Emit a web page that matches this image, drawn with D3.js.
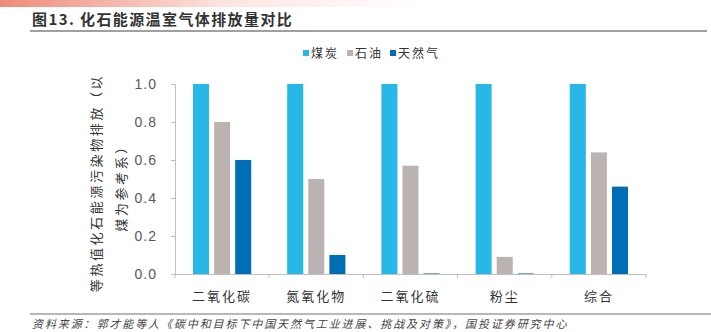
<!DOCTYPE html>
<html><head><meta charset="utf-8">
<script src="https://cdn.jsdelivr.net/npm/d3@7"></script>
<style>
body{margin:0;background:#fff;}
svg{display:block;}
</style></head>
<body>
<svg id="chart" width="711" height="332"></svg>
<script>
const categories = ["二氧化碳","氮氧化物","二氧化硫","粉尘","综合"];
const seriesNames = ["煤炭","石油","天然气"];
const coal = [1.0, 1.0, 1.0, 1.0, 1.0];
const oil = [0.8, 0.5, 0.57, 0.09, 0.64];
const gas = [0.6, 0.1, 0.003, 0.003, 0.46];
const yTicks = [0, 0.2, 0.4, 0.6, 0.8, 1.0];
const colors = ["#27b8e7","#bab3b1","#006eb4"];
const title = "图13. 化石能源温室气体排放量对比";
const source = "资料来源：郭才能等人《碳中和目标下中国天然气工业进展、挑战及对策》，国投证券研究中心";
const yLabel1 = "等热值化石能源污染物排放（以";
const yLabel2 = "煤为参考系）";

const svg = d3.select("#chart");
const defs = svg.append("defs");
const grad = defs.append("linearGradient").attr("id","topg").attr("x1","0").attr("x2","1");
grad.append("stop").attr("offset","0").attr("stop-color","#f08a7a");
grad.append("stop").attr("offset","0.55").attr("stop-color","#fde6e2");
grad.append("stop").attr("offset","1").attr("stop-color","#ffffff");
svg.append("rect").attr("x",0).attr("y",0).attr("width",420).attr("height",7).attr("fill","url(#topg)");

svg.append("text").attr("x",32).attr("y",25).text(title)
  .attr("font-family","'Noto Sans CJK SC'").attr("font-size",15).attr("font-weight","bold")
  .attr("fill","#333").attr("letter-spacing","1.4");
svg.append("line").attr("x1",30).attr("x2",707).attr("y1",31).attr("y2",31)
  .attr("stroke","#a0a0a0").attr("stroke-width",2);

const m = {left:175, right:646, top:84, bottom:274};
const x = d3.scaleBand().domain(categories).range([m.left, m.right]).paddingInner(0).paddingOuter(0);
const y = d3.scaleLinear().domain([0,1]).range([m.bottom, m.top]);
const xs = d3.scaleBand().domain(seriesNames).range([18, x.bandwidth()-18]).paddingInner(0.24);

const data = [coal, oil, gas];
data.forEach((vals, si) => {
  svg.append("g").selectAll("rect").data(vals).join("rect")
    .attr("x", (d,i) => x(categories[i]) + xs(seriesNames[si]))
    .attr("width", xs.bandwidth())
    .attr("y", d => y(d))
    .attr("height", d => y(0) - y(d))
    .attr("fill", colors[si]);
});

// y axis
const yAxis = svg.append("g").attr("transform",`translate(${m.left},0)`)
  .call(d3.axisLeft(y).tickValues(yTicks).tickFormat(d3.format(".1f")).tickSize(4).tickPadding(14));
yAxis.select(".domain").attr("stroke","#bfbfbf");
yAxis.selectAll(".tick line").attr("stroke","#bfbfbf");
yAxis.selectAll("text").attr("font-family","'Liberation Sans', Arial").attr("font-size",14)
  .attr("fill","#595959").attr("letter-spacing","1");

// x axis
const xAxis = svg.append("g").attr("transform",`translate(0,${m.bottom})`)
  .call(d3.axisBottom(x).tickSize(0).tickPadding(18));
xAxis.select(".domain").attr("stroke","#bfbfbf");
xAxis.selectAll("text").attr("font-family","'Noto Sans CJK SC'").attr("font-size",13)
  .attr("fill","#333").attr("letter-spacing","2");
const bounds = categories.map(c => x(c)).concat([x(categories[categories.length-1]) + x.bandwidth()]);
xAxis.selectAll(".sep").data(bounds).join("line").attr("class","sep")
  .attr("x1",d=>d).attr("x2",d=>d).attr("y1",0).attr("y2",4).attr("stroke","#bfbfbf");

// y label
const yl = svg.append("g").attr("font-family","'Noto Sans CJK SC'").attr("font-size",13)
  .attr("fill","#333").attr("letter-spacing","2.6").attr("text-anchor","middle");
yl.append("text").attr("transform","translate(101,183) rotate(-90)").text(yLabel1);
yl.append("text").attr("transform","translate(126,185) rotate(-90)").text(yLabel2);

// legend
const lg = svg.append("g").attr("font-family","'Noto Sans CJK SC'").attr("font-size",12).attr("fill","#333");
const lx = [303, 347, 390];
seriesNames.forEach((s,i) => {
  lg.append("rect").attr("x",lx[i]).attr("y",50).attr("width",6).attr("height",6).attr("fill",colors[i]);
  lg.append("text").attr("x",lx[i]+8).attr("y",58).text(s).attr("letter-spacing","2");
});

// footer
svg.append("line").attr("x1",30).attr("x2",711).attr("y1",314).attr("y2",314)
  .attr("stroke","#a0a0a0").attr("stroke-width",1.5);
svg.append("text").attr("x",32).attr("y",328).text(source)
  .attr("font-family","'Noto Sans CJK SC'").attr("font-size",11).attr("font-style","italic")
  .attr("fill","#444").attr("letter-spacing","1.9");
</script>
</body></html>
